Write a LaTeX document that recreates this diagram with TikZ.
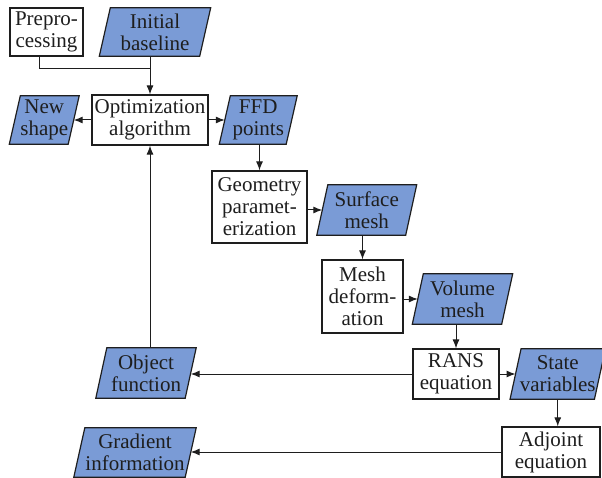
\documentclass[tikz,border=0pt]{standalone}
\usepackage{fontspec}
\setmainfont{Liberation Serif}
\usetikzlibrary{arrows.meta,backgrounds,calc}
\definecolor{pblue}{RGB}{122,155,214}
\definecolor{ink}{RGB}{30,30,30}
\tikzset{
  lbl/.style={align=center, inner sep=0pt, text=ink, font=\fontsize{21}{22}\selectfont},
  procbox/.style={lbl, draw=ink, line width=1.2pt, fill=white},
  ptext/.style={lbl},
  pshape/.style={draw=ink, line width=1.2pt, fill=pblue},
  conn/.style={draw=ink, line width=1pt, -{Latex[length=9pt,width=7pt]}},
  plain/.style={draw=ink, line width=1pt}
}
\newcommand{\parabox}[6]{%
  \node[ptext, minimum width=#4, minimum height=#5] (#1) at (#2,#3) {#6};
  \begin{scope}[on background layer]
    \path[pshape] ($(#1.north west)+(5.5,0)$) -- ($(#1.north east)+(5.5,0)$) -- ($(#1.south east)+(-5.5,0)$) -- ($(#1.south west)+(-5.5,0)$) -- cycle;
  \end{scope}}
\begin{document}
\begin{tikzpicture}[x=1pt,y=-1pt]
\useasboundingbox (0,0) rectangle (602,478);
% process boxes
\node[procbox, minimum width=73pt, minimum height=48pt] (prep) at (46.5,32) {Prepro-\\cessing};
\node[procbox, minimum width=116pt, minimum height=50pt] (opt) at (150,120) {Optimization\\algorithm};
\node[procbox, minimum width=95pt, minimum height=72pt] (geom) at (259.5,207) {Geometry\\paramet-\\erization};
\node[procbox, minimum width=81pt, minimum height=73pt] (mesh) at (362.5,296.5) {Mesh\\deform-\\ation};
\node[procbox, minimum width=86pt, minimum height=50pt] (rans) at (456,374) {RANS\\equation};
\node[procbox, minimum width=98pt, minimum height=50pt] (adj) at (551,452) {Adjoint\\equation};
% data parallelograms
\parabox{init}{155}{32}{100pt}{48pt}{Initial\\baseline}
\parabox{new}{44.25}{120}{58.5pt}{48pt}{New\\shape}
\parabox{ffd}{258.25}{120}{66.5pt}{48pt}{FFD\\points}
\parabox{surf}{366.75}{210}{88.5pt}{50pt}{Surface\\mesh}
\parabox{vol}{462.5}{299}{89pt}{50pt}{Volume\\mesh}
\parabox{obj}{146}{373}{89pt}{50pt}{Object\\function}
\parabox{state}{557.75}{374}{84pt}{50pt}{State\\variables}
\parabox{grad}{135}{452.5}{111pt}{49pt}{Gradient\\information}
% connectors
\coordinate (px) at (39,0);
\coordinate (j) at (150,69);
\draw[plain] (prep.south -| px) |- (j);
\draw[conn] (init.south -| opt.north) -- (opt.north);
\draw[conn] (opt.west) -- (new.east);
\draw[conn] (opt.east) -- (ffd.west);
\draw[conn] (ffd.south -| geom.north) -- (geom.north);
\draw[conn] (geom.east |- surf.west) -- (surf.west);
\draw[conn] (surf.south -| mesh.north) -- (mesh.north);
\draw[conn] (mesh.east |- vol.west) -- (vol.west);
\draw[conn] (vol.south -| rans.north) -- (rans.north);
\draw[conn] (rans.west) -- (obj.east |- rans.west);
\draw[conn] (rans.east) -- (state.west);
\draw[conn] (state.south) -- (state.south |- adj.north);
\draw[conn] (adj.west) -- (grad.east |- adj.west);
\draw[conn] (obj.north -| opt.south) -- (opt.south);
\end{tikzpicture}
\end{document}
